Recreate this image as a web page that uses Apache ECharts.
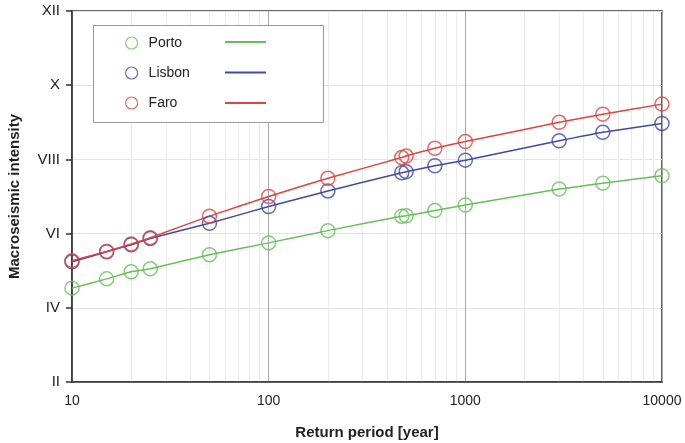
<!DOCTYPE html>
<html>
<head>
<meta charset="utf-8">
<script src="https://cdn.jsdelivr.net/npm/echarts@6/dist/echarts.min.js"></script>
<style>html,body{margin:0;padding:0;background:#fff;}#c{width:685px;height:443px;}</style>
</head>
<body>
<div id="c"></div>
<script>
// Return periods (years)
var periods = [10, 15, 20, 25, 50, 100, 200, 475, 500, 700, 1000, 3000, 5000, 10000];
// Macroseismic intensity values
var porto  = [4.53, 4.78, 4.97, 5.05, 5.43, 5.75, 6.08, 6.47, 6.48, 6.62, 6.77, 7.20, 7.36, 7.56];
var lisbon = [5.24, 5.51, 5.70, 5.87, 6.28, 6.73, 7.15, 7.64, 7.67, 7.83, 7.98, 8.50, 8.73, 8.97];
var faro   = [5.27, 5.52, 5.72, 5.89, 6.47, 7.00, 7.49, 8.05, 8.09, 8.30, 8.48, 9.00, 9.22, 9.49];
// Axis ticks
var yTickValues = [2, 4, 6, 8, 10, 12];
var yTickLabels = ['II', 'IV', 'VI', 'VIII', 'X', 'XII'];
var xTickLabels = ['10', '100', '1000', '10000'];
var cities = ['Porto', 'Lisbon', 'Faro'];
var colors = ['#66c05a', '#3f4aa8', '#e0443c'];

function pairs(vals) { return periods.map(function (p, i) { return [p, vals[i]]; }); }
var seriesVals = [porto, lisbon, faro];

var minorX = [];
[10, 100, 1000].forEach(function (d) { for (var k = 2; k <= 9; k++) minorX.push(d * k); });

var series = [];
// lines
seriesVals.forEach(function (v, i) {
  var s = {
    name: cities[i] + ' line', type: 'line', data: pairs(v), showSymbol: false, symbol: 'none',
    smooth: 0.15, lineStyle: { color: colors[i], width: 1.5 }, itemStyle: { color: colors[i] },
    z: 3, silent: true, animation: false
  };
  if (i === 0) {
    s.markLine = {
      silent: true, symbol: ['none', 'none'], label: { show: false }, animation: false,
      lineStyle: { color: '#ebebeb', width: 1, type: 'solid' },
      data: minorX.map(function (x) { return { xAxis: x }; }), z: 0
    };
  }
  series.push(s);
});
// markers
seriesVals.forEach(function (v, i) {
  series.push({
    name: cities[i], type: 'scatter', data: pairs(v), symbol: 'circle', symbolSize: 14,
    itemStyle: { color: 'rgba(0,0,0,0)', borderColor: colors[i], borderWidth: 1.5 },
    z: 4, animation: false
  });
});

var chart = echarts.init(document.getElementById('c'), null, { renderer: 'canvas' });
chart.setOption({
  animation: false,
  backgroundColor: '#fff',
  textStyle: { fontFamily: 'Liberation Sans, Arial, sans-serif' },
  grid: { left: 72, right: 23, top: 11, bottom: 61, show: true, borderColor: '#333', borderWidth: 1.5,
    backgroundColor: 'transparent', containLabel: false, outerBoundsMode: 'none' },
  graphic: [{
    type: 'rect', left: 93, top: 25, z: 50, silent: true,
    shape: { width: 230, height: 97 },
    style: { fill: '#fff', stroke: '#9a9a9a', lineWidth: 1 }
  }],
  legend: [{
    orient: 'vertical', left: 120, top: 31, z: 60, itemGap: 16,
    itemWidth: 12, itemHeight: 12, icon: 'circle',
    data: cities.map(function (c, i) {
      return { name: c, itemStyle: { color: 'rgba(0,0,0,0)', borderColor: colors[i], borderWidth: 1.2 } };
    }),
    textStyle: { fontSize: 14, color: '#222', lineHeight: 12, padding: [0, 0, 0, 6], fontFamily: 'Liberation Sans, Arial, sans-serif' },
    selectedMode: false
  }, {
    orient: 'vertical', left: 220, top: 36, z: 60, itemGap: 28.5,
    itemWidth: 41, itemHeight: 2, icon: 'rect',
    data: cities.map(function (c, i) { return { name: c + ' line', itemStyle: { color: colors[i] } }; }),
    formatter: function () { return ''; },
    textStyle: { fontSize: 1, lineHeight: 1 },
    selectedMode: false
  }],
  xAxis: {
    type: 'log', logBase: 10, min: 10, max: 10000,
    name: 'Return period [year]', nameLocation: 'middle', nameGap: 43,
    nameTextStyle: { fontSize: 15, fontWeight: 'bold', color: '#222', fontFamily: 'Liberation Sans, Arial, sans-serif' },
    axisLine: { show: true, onZero: false, lineStyle: { color: '#333', width: 1.5 } },
    axisTick: { show: false },
    axisLabel: {
      fontSize: 14, color: '#222', margin: 12,
      formatter: function (v) { var i = Math.round(Math.log10(v)) - 1; return xTickLabels[i] !== undefined ? xTickLabels[i] : ''; }
    },
    splitLine: { show: true, lineStyle: { color: '#a8a8a8', width: 1 } }
  },
  yAxis: {
    type: 'value', min: 2, max: 12, interval: 2,
    name: 'Macroseismic intensity', nameLocation: 'middle', nameGap: 50,
    nameTextStyle: { fontSize: 15, fontWeight: 'bold', color: '#222', fontFamily: 'Liberation Sans, Arial, sans-serif' },
    axisLine: { show: true, lineStyle: { color: '#333', width: 1.5 } },
    axisTick: { show: true, length: 6, inside: false, lineStyle: { color: '#333', width: 1.5 } },
    axisLabel: {
      fontSize: 15, color: '#222', margin: 12,
      formatter: function (v) { var i = yTickValues.indexOf(v); return i >= 0 ? yTickLabels[i] : ''; }
    },
    splitLine: { show: true, lineStyle: { color: '#e4e4e4', width: 1 } }
  },
  series: series
});
</script>
</body>
</html>
